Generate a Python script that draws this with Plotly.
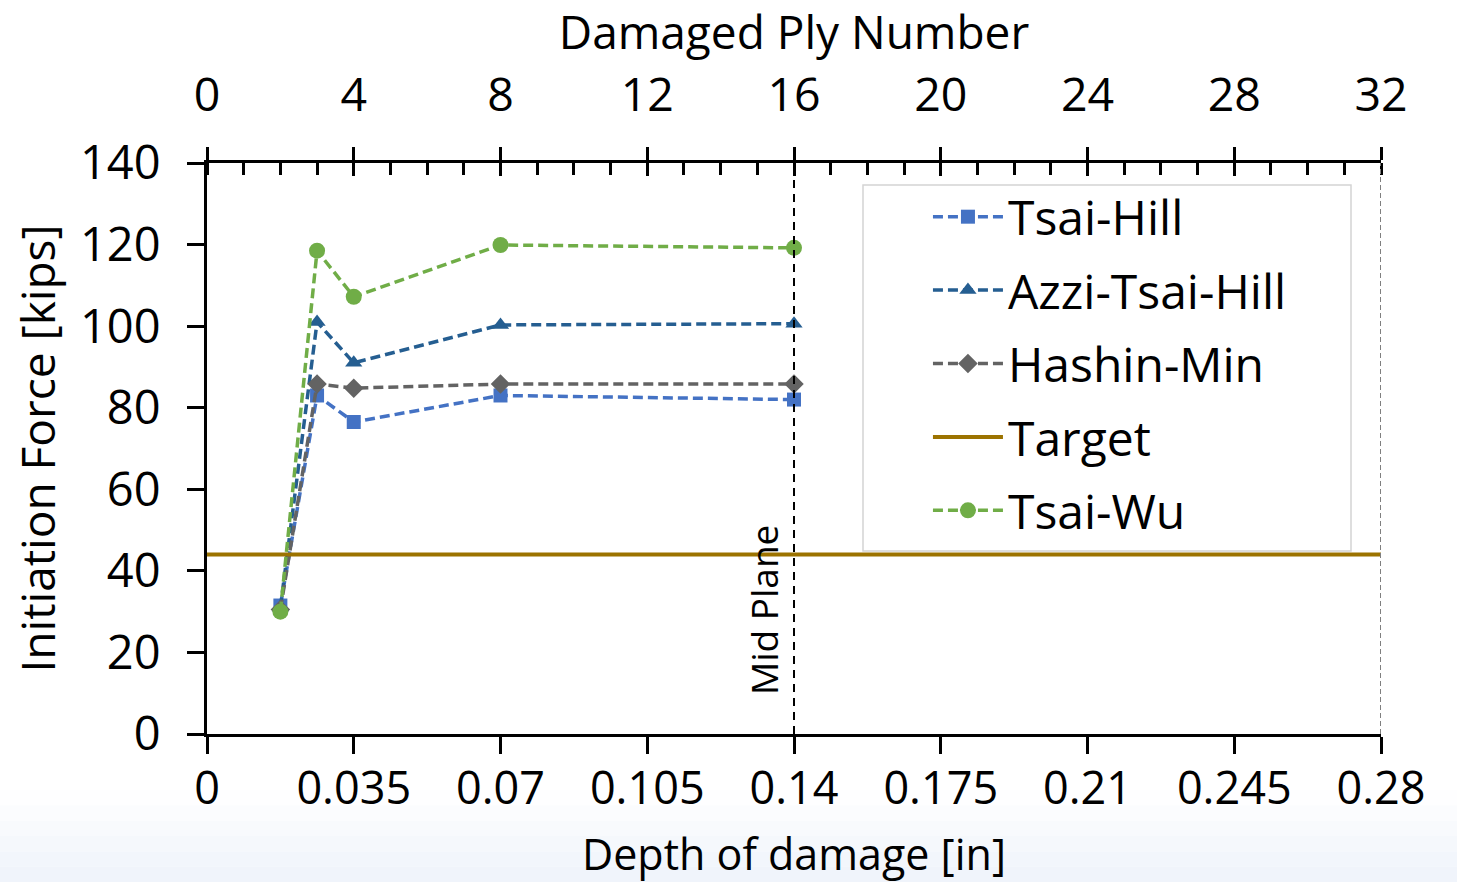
import plotly.graph_objects as go

# ---- data ----
depth = [0.0175, 0.02625, 0.035, 0.07, 0.14]          # depth of damage [in]
tsai_hill = [31.5, 83.0, 76.5, 83.0, 82.0]
azzi_tsai_hill = [31.0, 101.0, 91.0, 100.3, 100.6]
hashin_min = [30.5, 85.8, 84.8, 85.8, 85.8]
tsai_wu = [30.0, 118.5, 107.2, 119.9, 119.2]
target_x = [0.0, 0.28]
target_y = [44.0, 44.0]

depth_ticks = [0, 0.035, 0.07, 0.105, 0.14, 0.175, 0.21, 0.245, 0.28]
depth_ticktext = ["0", "0.035", "0.07", "0.105", "0.14", "0.175", "0.21", "0.245", "0.28"]
ply_ticktext = ["0", "4", "8", "12", "16", "20", "24", "28", "32"]
y_ticks = [0, 20, 40, 60, 80, 100, 120, 140]
mid_plane_x = 0.14
end_x = 0.28

FONT = "Open Sans"
DASH = "10px,5px"

series = [
    ("Tsai-Hill", tsai_hill, "#4472C4", "square", 14),
    ("Azzi-Tsai-Hill", azzi_tsai_hill, "#255E91", "triangle-up", 15),
    ("Hashin-Min", hashin_min, "#636363", "diamond", 15),
]

fig = go.Figure()
for name, vals, col, sym, sz in series:
    fig.add_trace(go.Scatter(
        x=depth, y=vals, name=name, mode="lines+markers",
        line=dict(color=col, width=3.5, dash=DASH),
        marker=dict(symbol=sym, size=sz, color=col),
        legendgroup=name,
    ))
fig.add_trace(go.Scatter(
    x=target_x, y=target_y, name="Target", mode="lines",
    line=dict(color="#9C7300", width=4), xaxis="x2", legendgroup="Target",
))
fig.add_trace(go.Scatter(
    x=depth, y=tsai_wu, name="Tsai-Wu", mode="lines+markers",
    line=dict(color="#70AD47", width=3.5, dash=DASH),
    marker=dict(symbol="circle", size=16, color="#70AD47"),
    legendgroup="Tsai-Wu",
))
# helper trace so the crossing major ticks on top are drawn
fig.add_trace(go.Scatter(x=target_x, y=target_y, xaxis="x3", mode="lines",
                         line=dict(width=0), showlegend=False, hoverinfo="skip"))

axis_common = dict(range=[0, 0.28], showgrid=False, zeroline=False,
                   linecolor="black", linewidth=3, tickcolor="black", tickwidth=3)

fig.update_layout(
    width=1457, height=882,
    margin=dict(l=207, r=76, t=163, b=148),
    paper_bgcolor="white", plot_bgcolor="white",
    font=dict(family=FONT, color="black"),
    xaxis=dict(
        **axis_common, tickmode="array", tickvals=depth_ticks, ticktext=depth_ticktext,
        ticks="outside", ticklen=17, showline=True, mirror=False, ticklabelstandoff=-4,
        tickfont=dict(family=FONT, size=45, color="black"),
    ),
    xaxis2=dict(
        **axis_common, overlaying="x", side="top", anchor="y",
        tickmode="array", tickvals=depth_ticks, ticktext=ply_ticktext,
        ticks="outside", ticklen=13, showline=True, ticklabelstandoff=17,
        tickfont=dict(family=FONT, size=46.5, color="black"),
        minor=dict(dtick=0.00875, tick0=0, ticks="inside", ticklen=12,
                   tickwidth=3, tickcolor="black"),
        title=dict(text="Damaged Ply Number", font=dict(family=FONT, size=46), standoff=9),
    ),
    xaxis3=dict(
        range=[0, 0.28], overlaying="x", side="top", anchor="y", showgrid=False,
        zeroline=False, showline=False, tickmode="array", tickvals=depth_ticks,
        ticks="inside", ticklen=13, tickwidth=3, tickcolor="black", showticklabels=False,
    ),
    yaxis=dict(
        range=[0, 140], tickmode="array", tickvals=y_ticks, showgrid=False, zeroline=False,
        showline=True, linecolor="black", linewidth=3, ticks="outside", ticklen=17,
        tickcolor="black", tickwidth=3, ticklabelstandoff=17,
        tickfont=dict(family=FONT, size=47, color="black"),
        title=dict(text="Initiation Force [kips]", font=dict(family=FONT, size=46), standoff=10),
    ),
    legend=dict(
        x=0.6141, y=0.972, xanchor="left", yanchor="top",
        bgcolor="rgba(0,0,0,0)", borderwidth=0,
        font=dict(family=FONT, size=48, color="black"),
        tracegroupgap=8, itemwidth=70,
    ),
    showlegend=True,
)

# bottom axis title (placed as an annotation for tight placement)
fig.add_annotation(x=0.5, y=(734 - 882) / 571, xref="paper", yref="paper",
                   text="Depth of damage [in]", showarrow=False,
                   xanchor="center", yanchor="bottom", yshift=-3,
                   font=dict(family=FONT, size=43, color="black"))

# legend frame
fig.add_shape(type="rect", xref="paper", yref="paper",
              x0=(863 - 207) / 1174, x1=(1351 - 207) / 1174,
              y0=(734 - 551) / 571, y1=(734 - 185) / 571,
              fillcolor="white", line=dict(color="#D4D4D4", width=1.5), layer="above")

# mid-plane and end vertical dashed lines
fig.add_shape(type="line", xref="x", yref="y", x0=mid_plane_x, x1=mid_plane_x, y0=0, y1=140,
              line=dict(color="black", width=2, dash="8px,6px"))
fig.add_shape(type="line", xref="x", yref="y", x0=end_x, x1=end_x, y0=0, y1=140,
              line=dict(color="#7F7F7F", width=2, dash="5px,3px"))
fig.add_annotation(x=mid_plane_x, y=30.5, xref="x", yref="y", text="Mid Plane",
                   textangle=-90, showarrow=False, xanchor="right", yanchor="middle",
                   xshift=-3, font=dict(family=FONT, size=37, color="black"))

# light bluish gradient at the bottom of the page
bands = ["#FEFEFF", "#FBFCFE", "#F8FAFD", "#F5F8FC", "#F2F6FC", "#F0F4FB"]
y_top = (734 - 790) / 571
y_bot = (734 - 882) / 571
step = (y_top - y_bot) / len(bands)
for i, c in enumerate(bands):
    fig.add_shape(type="rect", xref="paper", yref="paper", x0=-1, x1=2,
                  y0=y_top - (i + 1) * step, y1=y_top - i * step,
                  fillcolor=c, line=dict(width=0), layer="below")

fig.write_html("out.html")
